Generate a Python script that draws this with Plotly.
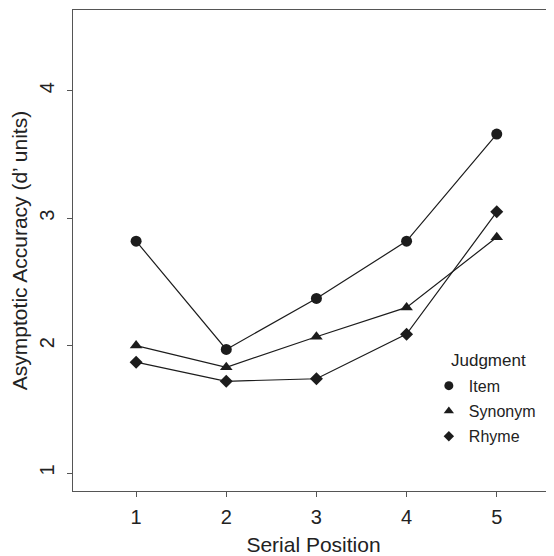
import plotly.graph_objects as go

serial_position = [1, 2, 3, 4, 5]
item = [2.82, 1.97, 2.37, 2.82, 3.66]
synonym = [2.00, 1.83, 2.07, 2.30, 2.85]
rhyme = [1.87, 1.72, 1.74, 2.09, 3.05]

x_ticks = [1, 2, 3, 4, 5]
y_ticks = [1, 2, 3, 4]

FONT = "Liberation Sans, Arial, Helvetica, sans-serif"
INK = "#1c1c1c"
TXT = "#222222"

series = [
    ("Item", item, "circle", 11),
    ("Synonym", synonym, "triangle-up", 11),
    ("Rhyme", rhyme, "diamond", 10),
]

fig = go.Figure()
for name, vals, sym, size in series:
    fig.add_trace(go.Scatter(
        x=serial_position, y=vals, mode="lines+markers",
        line=dict(color=INK, width=1.2),
        marker=dict(symbol=sym, size=size, color=INK),
        showlegend=False, hoverinfo="skip",
    ))
for name, vals, sym, size in series:
    fig.add_trace(go.Scatter(
        x=[None], y=[None], mode="markers", name=name, legendgroup=name,
        marker=dict(symbol=sym, size=size - 2, color=INK),
    ))

fig.update_layout(
    width=546, height=548,
    margin=dict(l=65, r=0, t=2, b=65, autoexpand=False),
    paper_bgcolor="white", plot_bgcolor="white",
    font=dict(family=FONT, color=TXT, size=20),
    legend=dict(
        x=0.7398, y=0.2542, xanchor="left", yanchor="top",
        bgcolor="rgba(0,0,0,0)",
        font=dict(size=16, family=FONT, color=TXT),
        itemwidth=30, tracegroupgap=1.5,
    ),
    annotations=[dict(
        text="Judgment", x=0.7817, y=0.2723, xref="paper", yref="paper",
        xanchor="left", yanchor="middle", showarrow=False,
        font=dict(size=17, family=FONT, color=TXT),
    )],
    xaxis=dict(
        range=[0.3, 5.635], tickvals=x_ticks, ticktext=[str(v) for v in x_ticks],
        showgrid=False, zeroline=False, automargin=False,
        showline=True, linecolor="#555555", linewidth=1, mirror=True,
        ticks="outside", ticklen=5, tickcolor="#555555",
        tickfont=dict(size=20), ticklabelstandoff=3,
        title=dict(text="Serial Position", font=dict(size=21), standoff=16),
    ),
    yaxis=dict(
        range=[0.859, 4.634], tickvals=y_ticks, ticktext=[str(v) for v in y_ticks],
        showgrid=False, zeroline=False, automargin=False,
        showline=True, linecolor="#555555", linewidth=1,
        ticks="outside", ticklen=5, tickcolor="#555555",
        tickangle=-90, tickfont=dict(size=20), ticklabelstandoff=5,
        title=dict(text="Asymptotic Accuracy (d’ units)", font=dict(size=21), standoff=4),
    ),
)

fig.write_html("out.html")
